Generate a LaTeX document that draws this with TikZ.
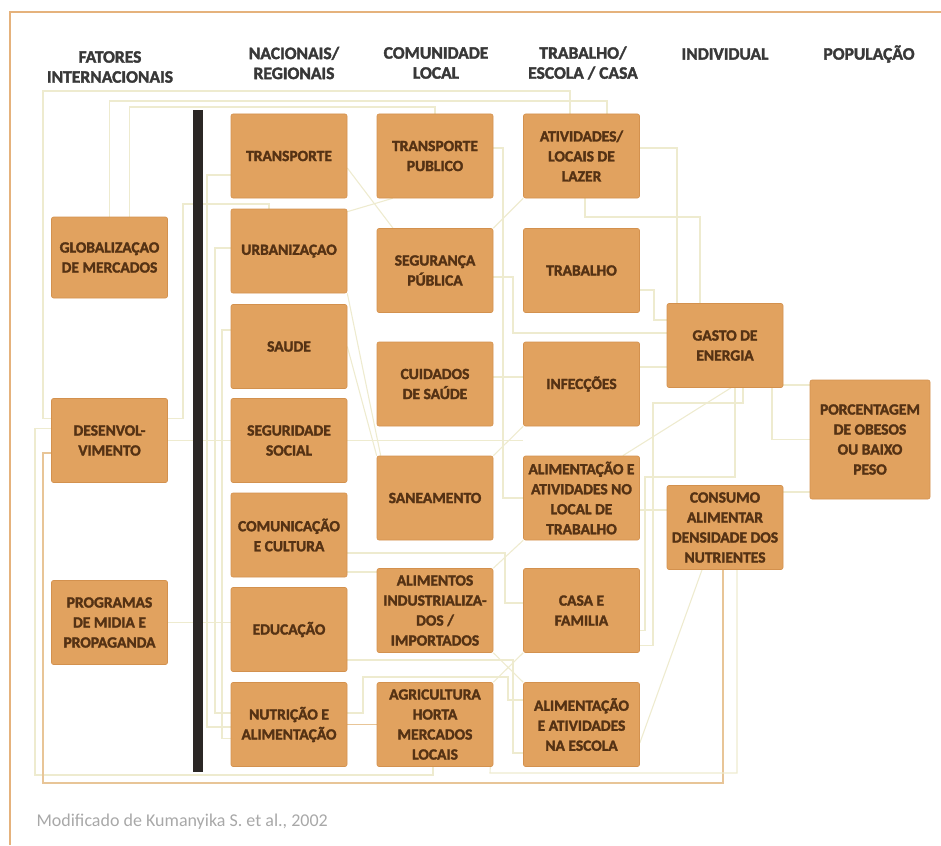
\documentclass[tikz,border=0pt]{standalone}
\usepackage{fontspec}
\setmainfont{Carlito}[BoldFeatures={FakeBold=2}]
\usetikzlibrary{backgrounds}

\definecolor{boxfill}{HTML}{E1A25F}
\definecolor{boxedge}{HTML}{D3914E}
\definecolor{boxtext}{HTML}{553214}
\definecolor{headtext}{HTML}{383838}
\definecolor{linkc}{HTML}{EEEBCF}
\definecolor{tanc}{HTML}{E8C597}
\definecolor{framec}{HTML}{E5B27C}
\definecolor{barc}{HTML}{2B2725}
\definecolor{captc}{HTML}{A8A8A8}

\tikzset{
  box/.style={draw=boxedge, line width=0.6pt, fill=boxfill, rounded corners=2pt,
    minimum width=116pt, minimum height=84pt, align=center, text=boxtext,
    inner sep=1pt, font=\fontsize{15.5}{20}\selectfont\bfseries},
  head/.style={align=center, text=headtext, font=\fontsize{17.5}{20}\selectfont\bfseries},
  link/.style={draw=linkc, line width=1.1pt},
  tanlink/.style={draw=tanc, line width=1.2pt}
}

\begin{document}
\begin{tikzpicture}[x=1pt,y=-1pt]
\useasboundingbox (0,0) rectangle (941,845);
%frame
\draw[framec, line width=2.2pt] (10,845) -- (10,12) -- (941,12);

%headers
\node[head] (hInt) at (110,67) {FATORES\\INTERNACIONAIS};
\node[head] (hNac) at (294,63) {NACIONAIS/\\REGIONAIS};
\node[head] (hCom) at (436,63) {COMUNIDADE\\LOCAL};
\node[head] (hTra) at (583,63) {TRABALHO/\\ESCOLA / CASA};
\node[head] (hInd) at (725,54) {INDIVIDUAL};
\node[head] (hPop) at (869,54) {POPULAÇÃO};

%international factors
\node[box, minimum height=81pt] (glob) at (109.5,257.5) {GLOBALIZAÇAO\\DE MERCADOS};
\node[box] (desenv) at (109.5,440.5) {DESENVOL-\\VIMENTO};
\node[box] (prog) at (109.5,622.5) {PROGRAMAS\\DE MIDIA E\\PROPAGANDA};

%national / regional
\node[box] (transp) at (289,156) {TRANSPORTE};
\node[box] (urb) at (289,251) {URBANIZAÇAO};
\node[box] (saude) at (289,346.5) {SAUDE};
\node[box] (segsoc) at (289,440.5) {SEGURIDADE\\SOCIAL};
\node[box] (comun) at (289,535) {COMUNICAÇÃO\\E CULTURA};
\node[box] (educ) at (289,629.5) {EDUCAÇÃO};
\node[box] (nutri) at (289,724.5) {NUTRIÇÃO E\\ALIMENTAÇÃO};

%local community
\node[box] (tpub) at (435,156) {TRANSPORTE\\PUBLICO};
\node[box] (segpub) at (435,270.5) {SEGURANÇA\\PÚBLICA};
\node[box] (cuid) at (435,384) {CUIDADOS\\DE SAÚDE};
\node[box] (sanea) at (435,498) {SANEAMENTO};
\node[box] (alimind) at (435,610.5) {ALIMENTOS\\INDUSTRIALIZA-\\DOS /\\IMPORTADOS};
\node[box] (agri) at (435,724.5) {AGRICULTURA\\HORTA\\MERCADOS\\LOCAIS};

%work / school / home
\node[box] (lazer) at (581.5,156) {ATIVIDADES/\\LOCAIS DE\\LAZER};
\node[box] (trab) at (581.5,270.5) {TRABALHO};
\node[box] (infec) at (581.5,384) {INFECÇÕES};
\node[box] (alimtrab) at (581.5,498) {ALIMENTAÇÃO E\\ATIVIDADES NO\\LOCAL DE\\TRABALHO};
\node[box] (casa) at (581.5,610.5) {CASA E\\FAMILIA};
\node[box] (escola) at (581.5,724.5) {ALIMENTAÇÃO\\E ATIVIDADES\\NA ESCOLA};

%individual and population
\node[box] (gasto) at (725,345.5) {GASTO DE\\ENERGIA};
\node[box] (consumo) at (725,527.5) {CONSUMO\\ALIMENTAR\\DENSIDADE DOS\\NUTRIENTES};
\node[box, minimum width=120pt, minimum height=119pt] (porc) at (870,439.5) {PORCENTAGEM\\DE OBESOS\\OU BAIXO\\PESO};

\begin{scope}[on background layer]
%outer loops
\draw[link] ([yshift=22pt]desenv.west) -- (43,418.5) -- (43,91) -| ([xshift=-11.5pt]lazer.north);
\draw[link] (glob.north) |- (607,101) -- ([xshift=25.5pt]lazer.north);
\draw[link] ([xshift=20pt]glob.north) |- (435,107) -- (tpub.north);
\draw[link] ([yshift=12pt]desenv.west) -- (35,428.5) |- (433,775) -- ([xshift=-2pt]agri.south);
\draw[tanlink] ([yshift=-12.5pt]desenv.west) -- (43,453) |- (723,783) -- ([xshift=-2pt]consumo.south);
%left of the bar
\draw[link] ([yshift=22pt]desenv.east) -- (183,418.5) |- (269,204) -- ([xshift=-20pt]urb.north);
\draw[link] (desenv.east) -- (segsoc.west);
\draw[link] (prog.east) -- (prog.east -| educ.west);
\draw[link] ([yshift=-19pt]transp.west) -- (207,175) |- ([yshift=-2.5pt]nutri.west);
\draw[link] ([yshift=3pt]urb.west) -- (215,248) |- ([yshift=11.5pt]nutri.west);
\draw[link] ([yshift=16.5pt]saude.west) -- (222,330) |- ([yshift=-14pt]nutri.west);
%national to local
\draw[link] ([yshift=-12pt]transp.east) -- ([xshift=-42pt]segpub.north);
\draw[link] ([yshift=-3pt]urb.north east) -- ([xshift=16pt]tpub.south west);
\draw[link] (urb.south east) -- ([xshift=4pt]sanea.north west);
\draw[link] (saude.east) -- (sanea.north west);
\draw[link] (segsoc.east) -- (segsoc.east -| infec.west);
\draw[link] ([yshift=-18pt]comun.east) -| (505,603) -- ([yshift=7.5pt]casa.west);
\draw[link] ([yshift=-37pt]comun.east) -- ([yshift=38.5pt]alimind.west);
\draw[link] ([yshift=-30.5pt]educ.east) -- (513,660) |- ([yshift=-28.5pt]escola.west);
\draw[link] ([yshift=11.5pt]nutri.east) -- (363,713) |- (508,677) |- ([yshift=24.5pt]escola.west);
\draw[tanlink] (nutri.east) -- (agri.west);
%local to work / school / home
\draw[link] ([yshift=8pt]tpub.east) -- (503,148) |- (alimtrab.west);
\draw[link] ([yshift=-6.5pt]segpub.east) -- (513,277) |- ([yshift=12.5pt]gasto.west);
\draw[link] (segpub.north east) -- (lazer.south west);
\draw[link] ([yshift=7pt]cuid.east) -- ([yshift=7pt]infec.west);
\draw[link] (infec.south west) -- (sanea.north east);
\draw[link] (alimtrab.south west) -- (alimind.north east);
\draw[link] (alimind.south east) -- (escola.north west);
\draw[link] (agri.north east) -- (casa.south west);
%to the individual
\draw[link] ([xshift=3.5pt]lazer.south) -- (585,217) -| ([xshift=-25pt]gasto.north);
\draw[link] ([yshift=8pt]lazer.east) -| ([xshift=-48pt]gasto.north);
\draw[link] ([yshift=-19.5pt]trab.east) -- (654,290) |- ([yshift=25.5pt]gasto.west);
\draw[link] ([yshift=17pt]infec.east) -- ([yshift=-21.5pt]gasto.west);
\draw[link] ([xshift=6pt]gasto.south) -- ([xshift=-17pt]alimtrab.north east);
\draw[link] ([xshift=10pt]gasto.south) |- (645,477) |- ([yshift=-20pt]casa.east);
\draw[link] ([yshift=-35pt]casa.east) -- (653,645.5) |- (743,403) -- ([xshift=18pt]gasto.south);
\draw[link] ([yshift=-12pt]alimtrab.east) -- ([yshift=17.5pt]consumo.west);
\draw[link] ([xshift=-23pt]consumo.south) -- ([yshift=-18.5pt]escola.east);
\draw[link] ([xshift=12pt]consumo.south) |- (490,773) -- ([xshift=-3pt]agri.south east);
%to the population
\draw[link] ([yshift=-39.5pt]gasto.east) -- ([yshift=54.5pt]porc.west);
\draw[link] ([xshift=47pt]gasto.south) |- (porc.west);
\draw[link] ([yshift=35.5pt]consumo.east) -- ([yshift=-52.5pt]porc.west);
\end{scope}

%dividing bar
\fill[barc] (193,110) rectangle (203,772);

%source
\node[anchor=west, text=captc, font=\fontsize{18}{20}\selectfont] (fonte) at (33,822) {Modificado de Kumanyika S. et al., 2002};
\end{tikzpicture}
\end{document}
